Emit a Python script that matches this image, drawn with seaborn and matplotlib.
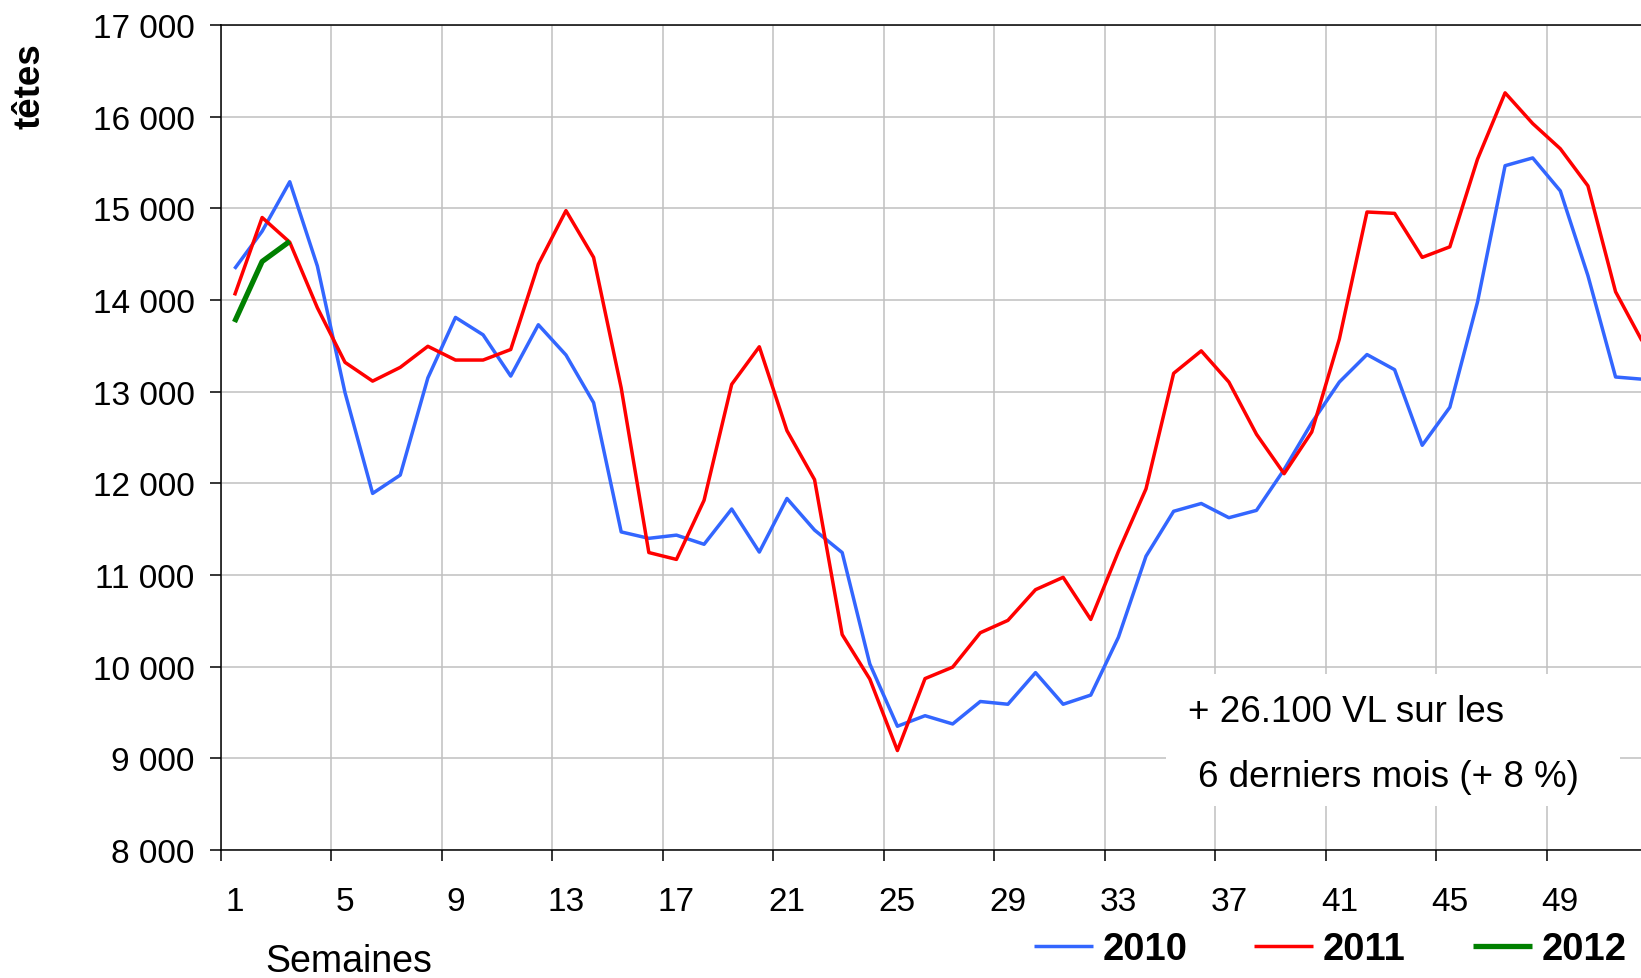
#!/usr/bin/env python3

import numpy as np
import pandas as pd
import matplotlib
matplotlib.use("Agg")
import matplotlib.pyplot as plt
import seaborn as sns
from matplotlib.ticker import FixedLocator, FuncFormatter
from matplotlib.patches import Rectangle

# weekly slaughter counts (heads)
weeks = list(range(1, 53))
v2010 = [14340, 14750, 15290, 14370, 12990, 11890, 12090, 13150, 13810, 13620,
         13170, 13730, 13400, 12880, 11470, 11400, 11435, 11335, 11720, 11250,
         11835, 11490, 11245, 10030, 9350, 9465, 9375, 9620, 9590, 9935,
         9590, 9690, 10320, 11205, 11695, 11780, 11625, 11705, 12150, 12660,
         13105, 13405, 13240, 12415, 12830, 13975, 15465, 15550, 15190, 14265,
         13160, 13135]
v2011 = [14050, 14900, 14630, 13915, 13320, 13115, 13265, 13495, 13345, 13345,
         13460, 14390, 14975, 14465, 13040, 11245, 11170, 11815, 13080, 13490,
         12575, 12040, 10350, 9865, 9085, 9870, 9995, 10370, 10505, 10840,
         10975, 10515, 11255, 11940, 13200, 13445, 13105, 12535, 12105, 12560,
         13575, 14960, 14945, 14465, 14580, 15535, 16260, 15925, 15650, 15245,
         14090, 13530]
v2012 = [13760, 14420, 14640]

years = ["2010", "2011", "2012"]
colors = {"2010": "#3366ff", "2011": "#ff0000", "2012": "#008000"}
widths = [2.5, 2.5, 3.8]

week_labels = list(range(1, 53, 4))
note_lines = ["+ 26.100 VL sur les", "6 derniers mois (+ 8 %)"]

df = pd.concat([
    pd.DataFrame({"year": "2010", "week": weeks, "value": v2010}),
    pd.DataFrame({"year": "2011", "week": weeks, "value": v2011}),
    pd.DataFrame({"year": "2012", "week": weeks[:len(v2012)], "value": v2012}),
])

sns.set_style("white")
plt.rcParams["font.family"] = ["Liberation Sans", "DejaVu Sans"]
plt.rcParams["text.color"] = "black"
plt.rcParams["xtick.color"] = "black"
plt.rcParams["ytick.color"] = "black"

W, H = 1641, 979
fig = plt.figure(figsize=(W / 100, H / 100), dpi=100)
# plot area runs past the right edge like in the (cropped) original
ax = fig.add_axes([220.7 / W, 1 - 851 / H, (1657 - 220.7) / W, (851 - 26) / H])

sns.lineplot(data=df, x="week", y="value", hue="year", palette=colors,
             hue_order=years, ax=ax, legend=False, sort=False, zorder=3)
for line, lw in zip(ax.lines, widths):
    line.set_linewidth(lw)
    line.set_solid_capstyle("butt")

ax.set_xlim(0.5, 52.5)
ax.set_ylim(8000, 17000)
ax.set_xlabel("")
ax.set_ylabel("")

# category boundaries carry the tick marks / grid, week numbers sit between
ax.xaxis.set_major_locator(FixedLocator(np.arange(0.5, 53, 4)))
ax.xaxis.set_major_formatter(FuncFormatter(lambda v, p: ""))
ax.xaxis.set_minor_locator(FixedLocator(week_labels))
ax.xaxis.set_minor_formatter(FuncFormatter(lambda v, p: f"{int(v)}"))
ax.yaxis.set_major_locator(FixedLocator(np.arange(8000, 17001, 1000)))
ax.yaxis.set_major_formatter(FuncFormatter(lambda v, p: f"{v:,.0f}".replace(",", " ")))

ax.tick_params(axis="x", which="major", direction="out", length=8, width=1.1, color="black")
ax.tick_params(axis="x", which="minor", length=0, pad=26, labelsize=24, labelcolor="black")
ax.tick_params(axis="y", which="major", direction="out", length=7.7, width=1.1,
               color="black", pad=11, labelsize=24, labelcolor="black")
ax.tick_params(left=True, bottom=True)

ax.grid(True, which="major", color="#c0c0c0", linewidth=1.1)
ax.set_axisbelow(True)
for s in ax.spines.values():
    s.set_color("black")
    s.set_linewidth(1.1)
    s.set_visible(True)

# note box hiding the grid
fig.add_artist(Rectangle((1166 / W, 1 - 807 / H), 454 / W, 132 / H,
                         transform=fig.transFigure, fc="white", ec="none", zorder=2))
fig.text(1346 / W, 1 - 712 / H, note_lines[0], ha="center", va="center", fontsize=26.5, zorder=3)
fig.text(1388 / W, 1 - 778 / H, note_lines[1], ha="center", va="center", fontsize=26.5, zorder=3)

fig.text(30 / W, 1 - 86 / H, "têtes", rotation=90, ha="center", va="center",
         fontsize=26.5, fontweight="bold")
fig.text(349 / W, 1 - 971.7 / H, "Semaines", ha="center", va="baseline", fontsize=27)

fig.legend(ax.lines[:3], years, loc="center", bbox_to_anchor=(1330 / W, 1 - 950 / H),
           ncol=3, frameon=False, handlelength=1.55, handletextpad=0.25, columnspacing=1.75,
           prop={"weight": "bold", "size": 27.5}, borderaxespad=0, borderpad=0)

fig.savefig("out.png", dpi=100)
